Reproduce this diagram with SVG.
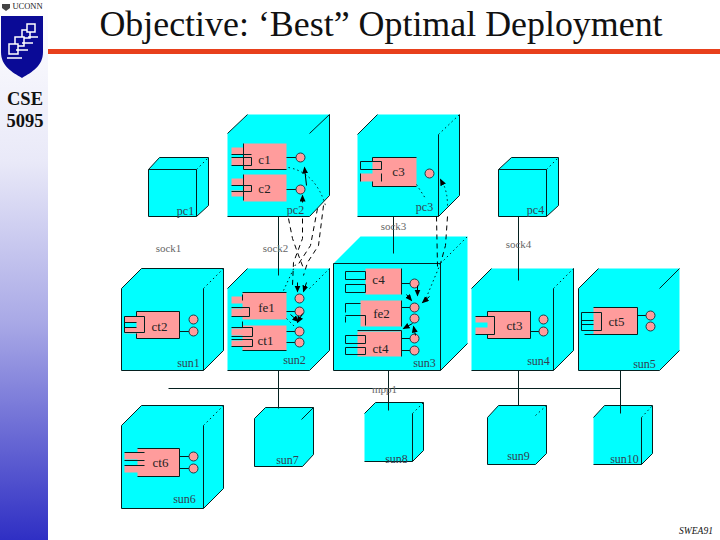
<svg xmlns="http://www.w3.org/2000/svg" width="720" height="540" viewBox="0 0 720 540">
<style>
.cube{fill:#00ffff;stroke:none}
.e{fill:none;stroke:#04201f;stroke-width:1}
.d{fill:none;stroke:#04201f;stroke-width:1;stroke-dasharray:1.5 3}
.p{fill:#ff9c9c;stroke:none}
.o{fill:#ff9c9c;stroke:#16404a;stroke-width:1}
.t{font-family:"Liberation Serif",serif;font-size:13px;fill:#222;text-anchor:middle}
.l{font-family:"Liberation Serif",serif;font-size:12px;fill:#333f50;text-anchor:middle}
.g{font-family:"Liberation Serif",serif;font-size:11px;fill:#666;text-anchor:middle}
.dash{fill:none;stroke:#000;stroke-width:1;stroke-dasharray:5 4}
.dot{fill:none;stroke:#04201f;stroke-width:1;stroke-dasharray:1.5 3}
.arr{fill:none;stroke:#000;stroke-width:1}
</style>
<defs>
<linearGradient id="side" x1="0" y1="0" x2="0" y2="1"><stop offset="0" stop-color="#ffffff"/><stop offset="0.3" stop-color="#e9e9f8"/><stop offset="0.6" stop-color="#a8a8e6"/><stop offset="1" stop-color="#2f2fc4"/></linearGradient>
<marker id="ah" markerWidth="8" markerHeight="8" refX="6" refY="3" orient="auto"><path d="M0 0L7 3L0 6Z" fill="#000"/></marker>
</defs>
<rect width="720" height="540" fill="#fff"/>
<rect width="48" height="540" fill="url(#side)"/>
<rect x="48" y="49" width="672" height="5" fill="#e8401c"/>
<g id="logo">
<path d="M2 4h8v4l-4 3l-4-3z" fill="#444"/>
<text x="27.500" y="9" font-family="Liberation Serif,serif" font-size="8.500" fill="#222" text-anchor="middle">UCONN</text>
<path d="M1 16H43V52C43 66 32 72 22 78C12 72 1 66 1 52Z" fill="#0a0a96"/>
<g fill="none" stroke="#fff" stroke-width="1.500">
<rect x="22" y="30" width="8" height="8"/><rect x="27" y="24" width="8" height="8" fill="#0a0a96"/>
<rect x="15" y="37" width="9" height="9" fill="#0a0a96"/><rect x="9" y="44" width="9" height="10" fill="#0a0a96"/>
<path d="M7 58H22M16 50H28M22 43H33M28 37H38"/>
</g>
</g>
<text x="381" y="36" font-family="Liberation Serif,serif" font-size="35.900" text-anchor="middle" fill="#111">Objective: ‘Best” Optimal Deployment</text>
<text x="25" y="105" font-family="Liberation Serif,serif" font-size="18.500" font-weight="bold" text-anchor="middle" fill="#111">CSE</text>
<text x="25" y="127" font-family="Liberation Serif,serif" font-size="18.500" font-weight="bold" text-anchor="middle" fill="#111">5095</text>
<text x="696" y="534" font-family="Liberation Serif,serif" font-size="9.500" font-style="italic" text-anchor="middle" fill="#111">SWEA91</text>
<g transform="translate(.5 .5)">
<g id="pc1"><path class="cube" d="M148 169L159 157H208V205L196 216H148Z"/><path class="e" d="M148 216V169H196V216H148M148 169L159 157H208V205L196 216"/><path class="d" d="M196 169L208 157"/><text class="l" x="185" y="214">pc1</text></g>

<g id="pc2"><path class="cube" d="M227 133L247 114H329V195L309 216H227Z"/><path class="e" d="M227 133L247 114M329 114V195L309 216H227M309 133L329 114"/>
<rect class="p" x="243" y="143" width="43" height="26"/><rect class="p" x="243" y="174" width="43" height="27"/>
<rect class="p" x="231" y="147" width="20" height="7"/><rect class="p" x="231" y="157" width="20" height="8"/><rect class="p" x="231" y="178" width="20" height="7"/><rect class="p" x="231" y="190" width="20" height="6"/>
<path class="e" d="M243 143V169H286M231 154H251M231 157H251V165H231M243 174V200M231 185H251V191H231M286 157H296M286 189H296"/>
<circle class="o" cx="300" cy="157" r="4.500"/><circle class="o" cx="300" cy="189" r="4.500"/>
<text class="t" x="264" y="163">c1</text><text class="t" x="264" y="192">c2</text><text class="l" x="295" y="213">pc2</text></g>

<g id="pc3"><path class="cube" d="M357 134L377 114H459V195L438 216H357Z"/><path class="e" d="M357 134L377 114M438 134V216H357M459 114V195L438 216"/><path class="d" d="M438 134L459 114"/>
<rect class="p" x="372" y="157" width="44" height="29"/><rect class="p" x="360" y="173" width="20" height="8"/>
<path class="e" d="M372 157H416M372 157V161M372 186H416M372 181V186M360 161H381V169H360ZM360 173V181M381 173V181"/>
<circle class="o" cx="429" cy="173" r="4.500"/>
<text class="t" x="398" y="175">c3</text><text class="l" x="424" y="210">pc3</text></g>

<g id="pc4"><path class="cube" d="M498 169L511 157H558V205L546 216H498Z"/><path class="e" d="M498 216V169H546V216H498M498 169L511 157H558V205L546 216"/><path class="d" d="M546 169L558 157"/><text class="l" x="535" y="213">pc4</text></g>

<g id="sun1"><path class="cube" d="M121 288L141 268H223V350L203 370H121Z"/><path class="e" d="M121 370V288L141 268H223V350L203 370H121M203 288V370"/><path class="d" d="M203 288L223 268"/>
<rect class="p" x="136" y="311" width="43" height="27"/><rect class="p" x="124" y="316" width="18" height="6"/><rect class="p" x="124" y="327" width="18" height="6"/>
<path class="e" d="M136 311H179V338H136V333M136 311V316M124 316H144V332H124ZM124 322H136M124 327H136M179 331H189"/>
<circle class="o" cx="193" cy="319" r="4.500"/><circle class="o" cx="193" cy="331" r="4.500"/>
<text class="t" x="159" y="330">ct2</text><text class="l" x="188" y="366">sun1</text></g>

<g id="sun2"><path class="cube" d="M227 288L247 268H329V350L309 370H227Z"/><path class="e" d="M227 288L247 268M227 370H309L329 350V268"/><path class="d" d="M309 288L329 268"/>
<rect class="p" x="242" y="292" width="44" height="27"/><rect class="p" x="242" y="325" width="44" height="25"/><rect class="p" x="231" y="296" width="20" height="7"/><rect class="p" x="231" y="308" width="20" height="8"/><rect class="p" x="231" y="328" width="20" height="7"/><rect class="p" x="231" y="340" width="20" height="6"/>
<path class="e" d="M242 292H286M242 294V300M231 307H249V316H231M231 327H252V336H231M231 339H252V346H231M242 321V327M242 350H286M286 311H296M286 331H296M286 342H296"/>
<circle class="o" cx="299" cy="298" r="4.500"/><circle class="o" cx="299" cy="311" r="4.500"/><circle class="o" cx="299" cy="331" r="4.500"/><circle class="o" cx="299" cy="342" r="4.500"/>
<text class="t" x="266" y="311">fe1</text><text class="t" x="265" y="344">ct1</text><text class="l" x="294" y="363">sun2</text></g>

<g id="sun3"><path class="cube" d="M333 263L360 236H467V343L440 370H333Z"/><path class="e" d="M333 263H440V370H333ZM440 370L467 343"/><path class="d" d="M440 263L467 236"/>
<rect class="p" x="365" y="268" width="36" height="26"/><rect class="p" x="360" y="300" width="41" height="26"/><rect class="p" x="357" y="331" width="44" height="25"/>
<path class="e" d="M345 271H365V279H345ZM345 284H365V292H345ZM401 268V294M345 303H360M345 312V303M345 316V322M345 315H365V325M401 300V326M357 330H401V356M345 335H365V343H345ZM345 347H365V354H345ZM401 283H410M401 307H410M401 338H410M401 350H410"/>
<circle class="o" cx="414" cy="283" r="4.500"/><circle class="o" cx="414" cy="307" r="4.500"/><circle class="o" cx="414" cy="318" r="4.500"/><circle class="o" cx="414" cy="338" r="4.500"/><circle class="o" cx="414" cy="350" r="4.500"/>
<text class="t" x="378" y="283">c4</text><text class="t" x="381" y="317">fe2</text><text class="t" x="380" y="352">ct4</text><text class="l" x="424" y="366">sun3</text></g>

<g id="sun4"><path class="cube" d="M471 288L491 268H573V350L553 370H471Z"/><path class="e" d="M471 288L491 268M573 268V350L553 370H471M553 288V370"/><path class="d" d="M553 288L573 268"/>
<rect class="p" x="487" y="311" width="43" height="27"/><rect class="p" x="475" y="316" width="18" height="6"/><rect class="p" x="475" y="327" width="18" height="7"/>
<path class="e" d="M487 311H530V338H487V334M487 311V316M475 316H494V334H475M530 331H539"/>
<circle class="o" cx="543" cy="319" r="4.500"/><circle class="o" cx="543" cy="331" r="4.500"/>
<text class="t" x="514" y="329">ct3</text><text class="l" x="538" y="364">sun4</text></g>

<g id="sun5"><path class="cube" d="M578 288L598 268H679V350L659 370H578Z"/><path class="e" d="M578 288L598 268M578 370H659M578 288V370M659 370L679 350M659 288L679 268"/>
<rect class="p" x="593" y="307" width="44" height="27"/>
<path class="e" d="M593 307H637V334H584M581 312H601V330H581ZM581 320H593M581 324H593M637 315H646"/>
<circle class="o" cx="650" cy="315" r="4.500"/><circle class="o" cx="650" cy="326" r="4.500"/>
<text class="t" x="616" y="325">ct5</text><text class="l" x="644" y="367">sun5</text></g>

<g id="sun6"><path class="cube" d="M121 425L141 405H223V488L203 508H121Z"/><path class="e" d="M121 508V425L141 405H223V488L203 508H121M203 425V508"/><path class="d" d="M203 425L223 405"/>
<rect class="p" x="137" y="448" width="42" height="28"/><rect class="p" x="124" y="452" width="20" height="7"/><rect class="p" x="124" y="465" width="20" height="7"/>
<path class="e" d="M137 448H179V476H137M124 452H144M124 460H144M124 465H144M179 456H189M179 468H189"/>
<circle class="o" cx="193" cy="456" r="4.500"/><circle class="o" cx="193" cy="468" r="4.500"/>
<text class="t" x="160" y="466">ct6</text><text class="l" x="184" y="502">sun6</text></g>

<g id="sun7"><path class="cube" d="M254 418L265 407H313V454L302 466H254Z"/><path class="e" d="M254 466V418L265 407H313V454L302 466H254M301 419L313 407"/><text class="l" x="287" y="463">sun7</text></g>
<g id="sun8"><path class="cube" d="M364 413L375 402H423V450L412 461H364Z"/><path class="e" d="M375 402H423V450L412 461H364M364 413L375 402M412 413V461"/><path class="d" d="M412 413L423 402"/><text class="l" x="396" y="462">sun8</text></g>
<g id="sun9"><path class="cube" d="M487 417L498 405H546V453L535 464H487Z"/><path class="e" d="M487 464V417L498 405H546V453L535 464H487"/><path class="d" d="M535 415L546 405"/><text class="l" x="518" y="459">sun9</text></g>
<g id="sun10"><path class="cube" d="M593 417L604 405H652V453L641 464H593Z"/><path class="e" d="M604 405H652V453L641 464H593M593 417L604 405M641 417V464"/><path class="d" d="M641 417L652 405"/><text class="l" x="624" y="462">sun10</text></g>

<g id="connectors">
<path class="e" d="M168 388H620M278 216V275M278 370V408M393 216V253M388 370V410M518 216V280M518 370V405M620 370V413"/>
<path class="dot" d="M288 167Q315 172 325 205M416 184L425 198M440 263L425 299"/>
<path class="arr" marker-end="url(#ah)" d="M306 185L304 167"/>
<path class="arr" marker-end="url(#ah)" d="M302 202V195"/>
<path class="dot" d="M447 205Q447 190 441 180"/>
<path class="arr" marker-end="url(#ah)" d="M442 183L440 179"/>
<path class="dash" d="M288 218L292 238L297 252L303 268M302 218V238L293 262L292 285M317 208L310 245L297 265M323 205L318 245L307 262L303 275M436 216L437 266M447 216L445 245L440 263"/>
<path class="dot" d="M283 290L296 262M286 318L296 328"/>
<path class="arr" marker-end="url(#ah)" d="M297 282V291"/>
<path class="arr" marker-end="url(#ah)" d="M306 282L303 291"/>
<path class="arr" marker-end="url(#ah)" d="M290 314L298 321"/>
<path class="arr" marker-end="url(#ah)" d="M302 313L297 322"/>
<path class="arr" marker-end="url(#ah)" d="M417 285L417 295"/>
<path class="arr" marker-end="url(#ah)" d="M406 294L411 300"/>
<path class="arr" marker-end="url(#ah)" d="M429 296L422 302"/>
<path class="arr" marker-end="url(#ah)" d="M412 323L403 328"/>
<path class="arr" marker-end="url(#ah)" d="M415 335L413 326"/>
<text class="g" x="168" y="251">sock1</text><text class="g" x="275" y="251">sock2</text><text class="g" x="393" y="229">sock3</text><text class="g" x="518" y="247">sock4</text><text class="g" x="384" y="392">mpp1</text>
</g>
</g>
</svg>
